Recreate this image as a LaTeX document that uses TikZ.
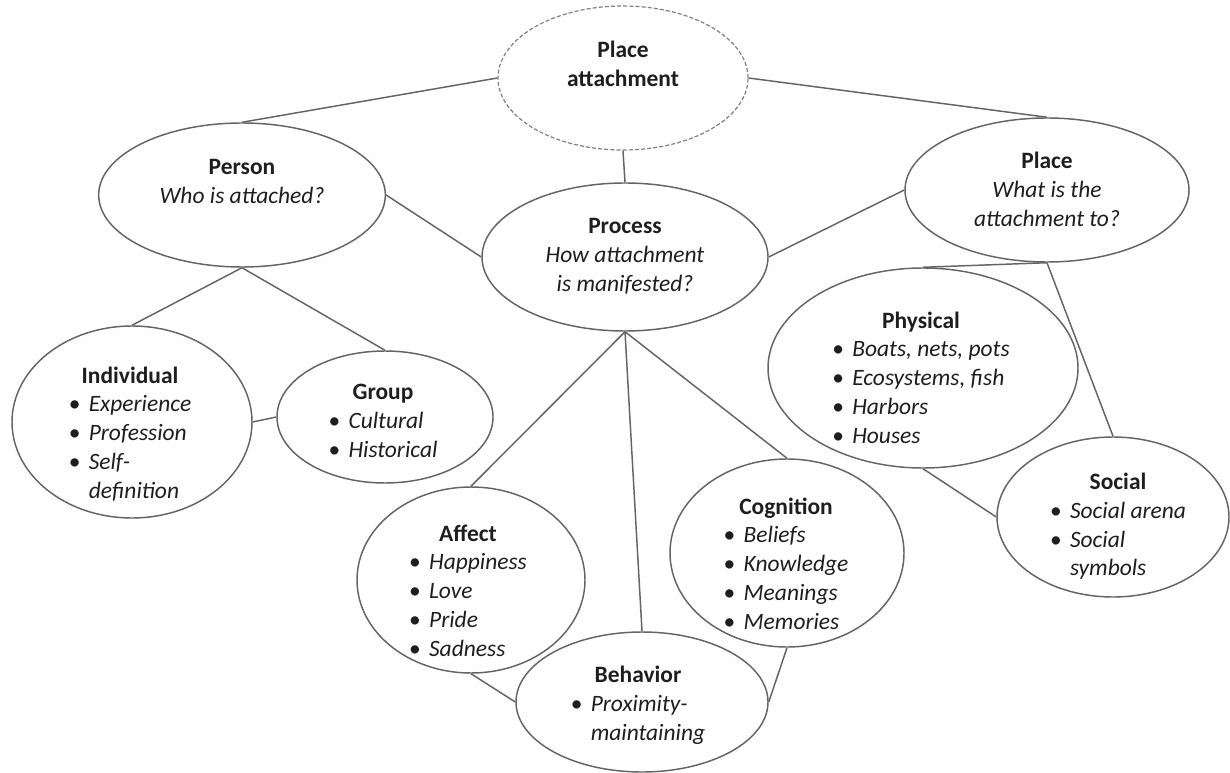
\documentclass[tikz,border=0pt]{standalone}
\usepackage{fontspec}
\setmainfont{Carlito}
\usetikzlibrary{shapes.geometric}
\definecolor{edgegray}{RGB}{100,100,100}
\definecolor{txtcol}{RGB}{30,30,30}
\newcommand{\bu}{\makebox[15pt][l]{\textbullet}}
\newcommand{\ii}[1]{\textit{#1}}
\begin{document}
\begin{tikzpicture}[x=0.75pt,y=-0.75pt,
  oval/.style={ellipse, draw=edgegray, line width=1.1pt, inner sep=0pt, fill=white},
  conn/.style={draw=edgegray, line width=1.1pt},
  lbl/.style={text=txtcol, inner sep=0pt, font=\fontsize{17.6pt}{21.6pt}\selectfont}]
\useasboundingbox[fill=white] (0,0) rectangle (1230,773);

% ellipses
\node[oval, dashed, draw=gray, dash pattern=on 3pt off 1.6pt, line width=0.9pt, minimum width=187.5pt, minimum height=108pt] (pa) at (623,78) {};
\node[oval, minimum width=215pt, minimum height=108pt] (person) at (242,195) {};
\node[oval, minimum width=214.5pt, minimum height=111pt] (process) at (625,257) {};
\node[oval, minimum width=213pt, minimum height=108pt] (place) at (1047,190) {};
\node[oval, minimum width=232.5pt, minimum height=150pt] (physical) at (923,368) {};
\node[oval, minimum width=174pt, minimum height=120pt] (social) at (1113,517) {};
\node[oval, minimum width=180pt, minimum height=144pt] (individual) at (132,422) {};
\node[oval, minimum width=162pt, minimum height=99pt] (group) at (385,417) {};
\node[oval, minimum width=171pt, minimum height=139.5pt] (affect) at (471,580) {};
\node[oval, minimum width=175.5pt, minimum height=141pt] (cognition) at (787,553) {};
\node[oval, minimum width=189pt, minimum height=105pt] (behavior) at (642,702) {};

% texts
\node[lbl] (pa-t) at (623,66) {\begin{tabular}{@{}c@{}}\textbf{Place}\\\textbf{attachment}\end{tabular}};
\node[lbl] (person-t) at (242,183) {\begin{tabular}{@{}c@{}}\textbf{Person}\\\ii{Who is attached?}\end{tabular}};
\node[lbl] (process-t) at (625,257) {\begin{tabular}{@{}c@{}}\textbf{Process}\\\ii{How attachment}\\\ii{is manifested?}\end{tabular}};
\node[lbl] (place-t) at (1047,192) {\begin{tabular}{@{}c@{}}\textbf{Place}\\\ii{What is the}\\\ii{attachment to?}\end{tabular}};
\node[lbl] (physical-t) at (921,380) {\begin{tabular}{@{}l@{}l@{}}\multicolumn{2}{c}{\textbf{Physical}}\\\bu&\ii{Boats, nets, pots}\\\bu&\ii{Ecosystems, fish}\\\bu&\ii{Harbors}\\\bu&\ii{Houses}\end{tabular}};
\node[lbl] (social-t) at (1118,527) {\begin{tabular}{@{}l@{}l@{}}\multicolumn{2}{c}{\textbf{Social}}\\\bu&\ii{Social arena}\\\bu&\ii{Social}\\&\ii{symbols}\end{tabular}};
\node[lbl] (individual-t) at (130,435) {\begin{tabular}{@{}l@{}l@{}}\multicolumn{2}{c}{\textbf{Individual}}\\\bu&\ii{Experience}\\\bu&\ii{Profession}\\\bu&\ii{Self-}\\&\ii{definition}\end{tabular}};
\node[lbl] (group-t) at (383,423) {\begin{tabular}{@{}l@{}l@{}}\multicolumn{2}{c}{\textbf{Group}}\\\bu&\ii{Cultural}\\\bu&\ii{Historical}\end{tabular}};
\node[lbl] (affect-t) at (468,593) {\begin{tabular}{@{}l@{}l@{}}\multicolumn{2}{c}{\textbf{Affect}}\\\bu&\ii{Happiness}\\\bu&\ii{Love}\\\bu&\ii{Pride}\\\bu&\ii{Sadness}\end{tabular}};
\node[lbl] (cognition-t) at (786,566) {\begin{tabular}{@{}l@{}l@{}}\multicolumn{2}{c}{\textbf{Cognition}}\\\bu&\ii{Beliefs}\\\bu&\ii{Knowledge}\\\bu&\ii{Meanings}\\\bu&\ii{Memories}\end{tabular}};
\node[lbl] (behavior-t) at (638,706) {\begin{tabular}{@{}l@{}l@{}}\multicolumn{2}{c}{\textbf{Behavior}}\\\bu&\ii{Proximity-}\\&\ii{maintaining}\end{tabular}};

% connectors
\draw[conn] (pa.west) -- (person.north);
\draw[conn] (pa.east) -- (place.north);
\draw[conn] (pa.south) -- (process.north);
\draw[conn] (person.east) -- (process.west);
\draw[conn] (process.east) -- (place.west);
\draw[conn] (person.south) -- (individual.north);
\draw[conn] (person.south) -- (group.north);
\draw[conn] (individual.east) -- (group.west);
\draw[conn] (process.south) -- (affect.north);
\draw[conn] (process.south) -- (behavior.north);
\draw[conn] (process.south) -- (cognition.north);
\draw[conn] (affect.south) -- (behavior.west);
\draw[conn] (cognition.south) -- (behavior.east);
\draw[conn] (place.south) -- (physical.north);
\draw[conn] (place.south) -- (social.north);
\draw[conn] (physical.south) -- (social.west);
\end{tikzpicture}
\end{document}
